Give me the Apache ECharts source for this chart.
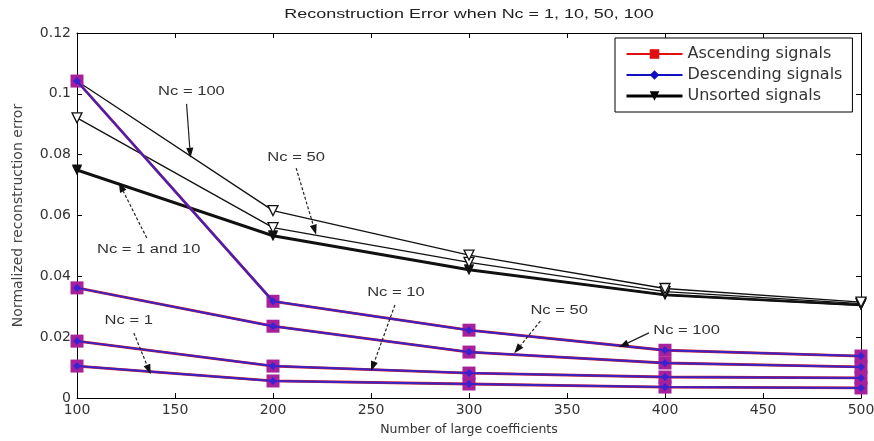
<!DOCTYPE html>
<html>
<head>
<meta charset="utf-8">
<script src="https://cdn.jsdelivr.net/npm/echarts@6/dist/echarts.min.js"></script>
<style>
  html, body { margin: 0; padding: 0; background: #fff; }
  #chart { width: 874px; height: 441px; }
</style>
</head>
<body>
<div id="chart"></div>
<script>
// Number of large coefficients kept
const coeffs = [100, 200, 300, 400, 500];

// Sorted signals: ascending and descending orderings give the same error
const sortedNc1   = [0.0105, 0.0056, 0.0046, 0.0036, 0.0033];
const sortedNc10  = [0.0187, 0.0105, 0.0082, 0.0069, 0.0066];
const sortedNc50  = [0.0362, 0.0236, 0.0151, 0.0115, 0.0102];
const sortedNc100 = [0.1042, 0.0318, 0.0223, 0.0157, 0.0138];

// Unsorted signals
const unsortedNc1   = [0.0748, 0.0532, 0.0420, 0.0338, 0.0305];
const unsortedNc10  = [0.0751, 0.0535, 0.0423, 0.0340, 0.0306];
const unsortedNc50  = [0.0921, 0.0560, 0.0446, 0.0350, 0.0310];
const unsortedNc100 = [0.1042, 0.0616, 0.0470, 0.0360, 0.0315];

const xTicks = [100, 150, 200, 250, 300, 350, 400, 450, 500];
const yTicks = [0, 0.02, 0.04, 0.06, 0.08, 0.1, 0.12];

const titleText = 'Reconstruction Error when Nc = 1, 10, 50, 100';

// Callouts: label position, arrow start and arrow tip, all in data units
const notes = [
  { text: 'Nc = 100',      at: [158.4, 0.1006], from: [155.9, 0.0967], to: [157.9, 0.0790], dashed: false },
  { text: 'Nc = 50',       at: [211.8, 0.0789], from: [211.8, 0.0756], to: [222.0, 0.0537], dashed: true },
  { text: 'Nc = 1 and 10', at: [136.6, 0.0487], from: [135.6, 0.0526], to: [121.3, 0.0709], dashed: true },
  { text: 'Nc = 1',        at: [126.4, 0.0253], from: [129.0, 0.0214], to: [137.6, 0.0078], dashed: true },
  { text: 'Nc = 10',       at: [262.7, 0.0345], from: [262.2, 0.0306], to: [250.0, 0.0088], dashed: true },
  { text: 'Nc = 50',       at: [346.0, 0.0286], from: [336.4, 0.0253], to: [323.1, 0.0147], dashed: true },
  { text: 'Nc = 100',      at: [411.0, 0.0220], from: [391.8, 0.0214], to: [376.5, 0.0167], dashed: false }
];

const NARROW = '"Liberation Sans", Arial, sans-serif';
const WIDE = '"DejaVu Sans", Verdana, sans-serif';
const pairs = vals => coeffs.map((c, i) => [c, vals[i]]);

const sortedSets = [sortedNc1, sortedNc10, sortedNc50, sortedNc100];
const unsortedSets = [
  { vals: unsortedNc1,   width: 2.2, hollow: false },
  { vals: unsortedNc10,  width: 2.2, hollow: false },
  { vals: unsortedNc50,  width: 1.3, hollow: true },
  { vals: unsortedNc100, width: 1.3, hollow: true }
];

const series = [];
unsortedSets.forEach(s => {
  series.push({
    name: 'Unsorted signals', type: 'line', data: pairs(s.vals),
    symbol: 'triangle', symbolRotate: 180, symbolSize: 10,
    lineStyle: { color: '#111', width: s.width },
    itemStyle: s.hollow ? { color: '#fff', borderColor: '#111', borderWidth: 1.3 } : { color: '#111' },
    emphasis: { disabled: true }, animation: false, z: 2
  });
});
sortedSets.forEach(v => {
  series.push({
    name: 'Ascending signals', type: 'line', data: pairs(v),
    symbol: 'rect', symbolSize: 13,
    lineStyle: { color: '#d0202a', width: 2.8 },
    itemStyle: { color: '#a8209a' },
    emphasis: { disabled: true }, animation: false, z: 3
  });
});
sortedSets.forEach(v => {
  series.push({
    name: 'Descending signals', type: 'line', data: pairs(v),
    symbol: 'diamond', symbolSize: 8,
    lineStyle: { color: '#3a22c4', width: 2 },
    itemStyle: { color: '#3a22d0' },
    emphasis: { disabled: true }, animation: false, z: 4
  });
});

const axisCommon = {
  axisLine: { show: true, onZero: false, lineStyle: { color: '#000', width: 1 } },
  axisTick: { show: true, inside: true, length: 5, lineStyle: { color: '#000' } },
  splitLine: { show: false }
};

const chart = echarts.init(document.getElementById('chart'), null, { renderer: 'canvas' });
chart.setOption({
  backgroundColor: '#fff',
  animation: false,
  textStyle: { fontFamily: WIDE },
  grid: { left: 77, right: 13, top: 33, bottom: 43, outerBoundsMode: 'none' },
  legend: {
    orient: 'vertical', left: 615, top: 38,
    padding: [8, 10, 8, 10], itemGap: 5,
    itemWidth: 56, itemHeight: 12,
    borderColor: '#000', borderWidth: 1, backgroundColor: '#fff',
    textStyle: { fontFamily: WIDE, fontSize: 16, color: '#333' },
    data: [
      { name: 'Ascending signals', itemStyle: { color: '#e01010' }, lineStyle: { color: '#e01010' } },
      { name: 'Descending signals', itemStyle: { color: '#1010c0' }, lineStyle: { color: '#1010c0' } },
      { name: 'Unsorted signals', itemStyle: { color: '#000', borderColor: '#000' }, lineStyle: { color: '#000', width: 3 } }
    ],
    selectedMode: false
  },
  xAxis: [
    Object.assign({
      type: 'value', min: xTicks[0], max: xTicks[xTicks.length - 1], interval: 50,
      name: 'Number of large coefficients', nameLocation: 'middle', nameGap: 25,
      nameTextStyle: { fontFamily: WIDE, fontSize: 12.5, color: '#333' },
      axisLabel: { fontFamily: WIDE, fontSize: 14, color: '#333', margin: 5 }
    }, axisCommon),
    Object.assign({
      type: 'value', position: 'top', min: xTicks[0], max: xTicks[xTicks.length - 1], interval: 50,
      axisLabel: { show: false }
    }, axisCommon)
  ],
  yAxis: [
    Object.assign({
      type: 'value', min: yTicks[0], max: yTicks[yTicks.length - 1], interval: 0.02,
      name: 'Normalized reconstruction error', nameLocation: 'middle', nameGap: 52,
      nameTextStyle: { fontFamily: WIDE, fontSize: 14, color: '#444' },
      axisLabel: { fontFamily: WIDE, fontSize: 14, color: '#333', margin: 6 }
    }, axisCommon),
    Object.assign({
      type: 'value', position: 'right', min: yTicks[0], max: yTicks[yTicks.length - 1], interval: 0.02,
      axisLabel: { show: false }
    }, axisCommon)
  ],
  series: series
});

// Title and callouts, placed through the axis scales
const toPx = v => chart.convertToPixel({ xAxisIndex: 0, yAxisIndex: 0 }, v);
const left = toPx([xTicks[0], 0])[0];
const right = toPx([xTicks[xTicks.length - 1], 0])[0];

const graphics = [{
  type: 'text', silent: true, z: 20, x: (left + right) / 2, y: 14, scaleX: 1.38,
  style: { text: titleText, fill: '#222', font: '13px ' + NARROW, align: 'center', verticalAlign: 'middle' }
}];
notes.forEach(n => {
  const p = toPx(n.at), a = toPx(n.from), b = toPx(n.to);
  const dx = b[0] - a[0], dy = b[1] - a[1];
  const len = Math.hypot(dx, dy), ux = dx / len, uy = dy / len;
  const head = 10, half = 3.6;
  const base = [b[0] - ux * head, b[1] - uy * head];
  graphics.push({
    type: 'line', silent: true, z: 20,
    shape: { x1: a[0], y1: a[1], x2: base[0], y2: base[1] },
    style: { stroke: '#222', lineWidth: 1.2, lineDash: n.dashed ? [3, 2] : null }
  });
  graphics.push({
    type: 'polygon', silent: true, z: 20,
    shape: { points: [b, [base[0] - uy * half, base[1] + ux * half], [base[0] + uy * half, base[1] - ux * half]] },
    style: { fill: '#111' }
  });
  graphics.push({
    type: 'text', silent: true, z: 20, x: p[0], y: p[1], scaleX: 1.38,
    style: { text: n.text, fill: '#333', font: '12px ' + NARROW, align: 'center', verticalAlign: 'middle' }
  });
});
chart.setOption({ graphic: graphics });
</script>
</body>
</html>
